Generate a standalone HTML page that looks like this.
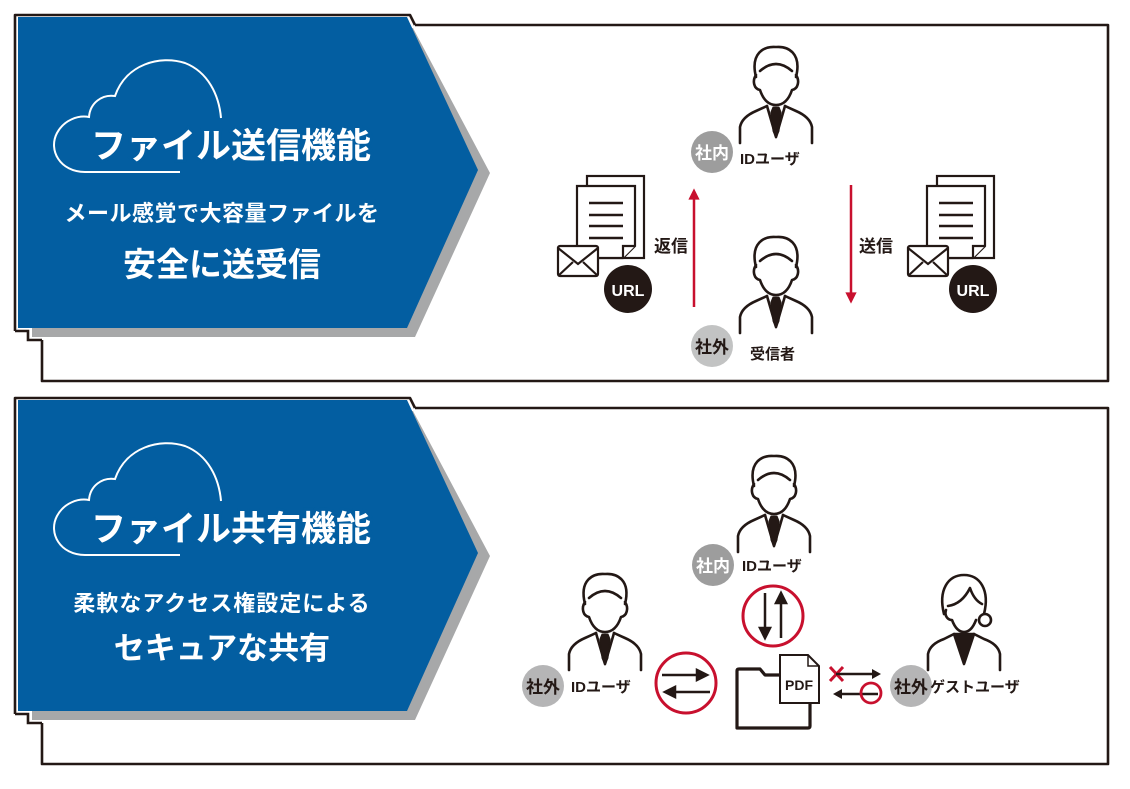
<!DOCTYPE html>
<html><head><meta charset="utf-8"><style>
html,body{margin:0;padding:0;background:#fff;}
svg{display:block;}
text{font-family:"Liberation Sans","Noto Sans CJK JP",sans-serif;}
</style></head><body>
<svg width="1130" height="789" viewBox="0 0 1130 789" xmlns="http://www.w3.org/2000/svg">
<defs>
<g id="man" fill="none" stroke="#231815" stroke-width="2.6" stroke-linejoin="round" stroke-linecap="round">
  <path d="M18,32 C12,8 26,1 38,2 C50,1 64,8 58,32" fill="#fff"/>
  <path d="M18,30 C14,36 16,44 22,45 C25,54 30,60 38,60 C46,60 51,54 54,45 C60,44 62,36 58,30"/>
  <path d="M22,26 Q38,12 54,26"/>
  <path d="M2,98 V82 Q4,72 18,66 L29,61"/>
  <path d="M74,98 V82 Q72,72 58,66 L47,61"/>
  <path d="M29,61 L38,92 L47,61"/>
  <path d="M35,62 H41 L43,67 L41,86 L38,93 L35,86 L33,67 Z" fill="#231815" stroke-width="1"/>
</g>
<g id="woman" fill="none" stroke="#231815" stroke-width="2.6" stroke-linejoin="round" stroke-linecap="round">
  <path d="M18,42 C12,18 22,3 38,3 C54,3 64,18 58,42"/>
  <path d="M20,38 C18,44 22,48 26,48 C29,56 33,60 38,60 C43,60 47,56 50,48"/>
  <path d="M22,34 Q36,32 44,16 Q48,28 56,32"/>
  <circle cx="59" cy="48" r="6" fill="#fff"/>
  <path d="M2,98 V82 Q4,72 18,67 L28,62"/>
  <path d="M74,98 V82 Q72,72 58,67 L48,62"/>
  <path d="M28,62 L38,92 L48,62 Z" fill="#231815"/>
</g>
<g id="docs" fill="#fff" stroke="#231815" stroke-width="2.2">
  <rect x="30" y="0" width="57" height="82"/>
  <path d="M20,10 H78 V70 L66,82 H20 Z"/>
  <path d="M66,82 V70 H78" />
  <path d="M32,27 H66 M32,39 H66 M32,50 H66 M32,62 H66" stroke-width="2.4"/>
  <rect x="1" y="70" width="40" height="30" rx="2"/>
  <path d="M1,72 L21,88 L41,72 M1,100 L16,86 M41,100 L26,86" fill="none"/>
</g>
<marker id="ra" viewBox="0 0 10 10" refX="5" refY="5" markerWidth="5" markerHeight="4.5" orient="auto"><path d="M0,0 L10,5 L0,10 Z" fill="#c8102e"/></marker>
</defs>

<!-- PANEL 1 -->
<path d="M415,25 H1108 V381 H42 V340" fill="#fff" stroke="#231815" stroke-width="2.6" stroke-linejoin="round"/>
<polygon points="32,28 413,28 490,173 415,337 32,337" fill="#a7a8a9"/>
<path d="M15,331 V15 H410 L415,25" fill="none" stroke="#231815" stroke-width="2.6" stroke-linejoin="round"/>
<path d="M15,331 H28 V340 H42" fill="none" stroke="#231815" stroke-width="2.6"/>
<polygon points="18,17 407,17 478,170 407,328 18,328" fill="#035ea1"/>
<path d="M180,172 H85 C60,172 48,150 57,133 C64,120 78,115 89,117 C90,103 102,94 115,96 C126,64 160,55 185,63 C208,72 219,95 221,118" fill="none" stroke="#fff" stroke-width="2"/>
<text x="231" y="158" fill="#fff" font-size="35" font-weight="bold" text-anchor="middle" stroke="#035ea1" stroke-width="6" paint-order="stroke">ファイル送信機能</text>
<text x="222" y="221" fill="#fff" font-size="22" font-weight="bold" text-anchor="middle" letter-spacing="0.5">メール感覚で大容量ファイルを</text>
<text x="222" y="276" fill="#fff" font-size="33" font-weight="bold" text-anchor="middle">安全に送受信</text>

<use href="#man" x="738" y="45"/>
<use href="#man" x="738" y="235"/>
<circle cx="712" cy="152" r="21" fill="#9d9d9d"/>
<text x="712" y="159" fill="#fff" font-size="17" font-weight="bold" text-anchor="middle">社内</text>
<text x="740" y="164" fill="#231815" font-size="15" font-weight="bold">IDユーザ</text>
<circle cx="712" cy="346" r="21" fill="#c2c3c3"/>
<text x="712" y="353" fill="#231815" font-size="17" font-weight="bold" text-anchor="middle">社外</text>
<text x="750" y="359" fill="#231815" font-size="15" font-weight="bold">受信者</text>
<line x1="694" y1="307" x2="694" y2="194" stroke="#c8102e" stroke-width="2.5" marker-end="url(#ra)"/>
<line x1="851" y1="185" x2="851" y2="298" stroke="#c8102e" stroke-width="2.5" marker-end="url(#ra)"/>
<text x="654" y="252" fill="#231815" font-size="17" font-weight="bold">返信</text>
<text x="859" y="252" fill="#231815" font-size="17" font-weight="bold">送信</text>
<use href="#docs" x="557" y="176"/>
<circle cx="628" cy="289" r="24" fill="#231815"/>
<text x="628" y="296" fill="#fff" font-size="16" font-weight="bold" text-anchor="middle">URL</text>
<use href="#docs" x="907" y="176"/>
<circle cx="973" cy="289" r="24" fill="#231815"/>
<text x="973" y="296" fill="#fff" font-size="16" font-weight="bold" text-anchor="middle">URL</text>

<!-- PANEL 2 -->
<path d="M415,408 H1108 V764 H42 V723" fill="#fff" stroke="#231815" stroke-width="2.6" stroke-linejoin="round"/>
<polygon points="32,411 413,411 490,556 415,720 32,720" fill="#a7a8a9"/>
<path d="M15,714 V398 H410 L415,408" fill="none" stroke="#231815" stroke-width="2.6" stroke-linejoin="round"/>
<path d="M15,714 H28 V723 H42" fill="none" stroke="#231815" stroke-width="2.6"/>
<polygon points="18,400 407,400 478,553 407,711 18,711" fill="#035ea1"/>
<path d="M180,555 H85 C60,555 48,533 57,516 C64,503 78,498 89,500 C90,486 102,477 115,479 C126,447 160,438 185,446 C208,455 219,478 221,501" fill="none" stroke="#fff" stroke-width="2"/>
<text x="231" y="541" fill="#fff" font-size="35" font-weight="bold" text-anchor="middle" stroke="#035ea1" stroke-width="6" paint-order="stroke">ファイル共有機能</text>
<text x="222" y="611" fill="#fff" font-size="22" font-weight="bold" text-anchor="middle" letter-spacing="1">柔軟なアクセス権設定による</text>
<text x="222" y="659" fill="#fff" font-size="31" font-weight="bold" text-anchor="middle">セキュアな共有</text>

<use href="#man" x="736" y="454"/>
<use href="#man" x="567" y="572"/>
<use href="#woman" x="926" y="572"/>
<circle cx="713" cy="565" r="21" fill="#9d9d9d"/>
<text x="713" y="572" fill="#fff" font-size="17" font-weight="bold" text-anchor="middle">社内</text>
<text x="742" y="571" fill="#231815" font-size="15" font-weight="bold">IDユーザ</text>
<circle cx="543" cy="686" r="21" fill="#b5b5b6"/>
<text x="543" y="693" fill="#231815" font-size="17" font-weight="bold" text-anchor="middle">社外</text>
<text x="571" y="692" fill="#231815" font-size="15" font-weight="bold">IDユーザ</text>
<circle cx="911" cy="686" r="21" fill="#b5b5b6"/>
<text x="911" y="693" fill="#231815" font-size="17" font-weight="bold" text-anchor="middle">社外</text>
<text x="930" y="692" fill="#231815" font-size="15" font-weight="bold">ゲストユーザ</text>

<circle cx="773" cy="616" r="30" fill="none" stroke="#c8102e" stroke-width="3"/>
<path d="M765,593 V633 M760,628 L765,638 L770,628 Z M781,638 V598 M776,603 L781,593 L786,603 Z" fill="#231815" stroke="#231815" stroke-width="2.5"/>
<circle cx="686" cy="683" r="30" fill="none" stroke="#c8102e" stroke-width="3"/>
<path d="M662,675 H702 M697,670 L707,675 L697,680 Z M710,692 H670 M675,687 L665,692 L675,697 Z" fill="#231815" stroke="#231815" stroke-width="2.5"/>

<path d="M737,728 V671 Q737,669 739,669 H760 L765,675 H810 V726 Q810,728 808,728 Z" fill="#fff" stroke="#231815" stroke-width="3.2" stroke-linejoin="round"/>
<path d="M780,655 H808 L819,666 V703 H780 Z" fill="#fff" stroke="#231815" stroke-width="2"/>
<path d="M808,655 V666 H819" fill="none" stroke="#231815" stroke-width="1.5"/>
<text x="799" y="690" fill="#231815" font-size="14" font-weight="bold" text-anchor="middle">PDF</text>
<path d="M830,667 L843,681 M843,667 L830,681" stroke="#c8102e" stroke-width="3"/>
<path d="M836,674 H874" stroke="#231815" stroke-width="2.5"/>
<path d="M872,669 L881,674 L872,679 Z" fill="#231815"/>
<path d="M878,694 H840" stroke="#231815" stroke-width="2.5"/>
<path d="M842,689 L833,694 L842,699 Z" fill="#231815"/>
<circle cx="871" cy="693" r="10" fill="none" stroke="#c8102e" stroke-width="2.8"/>
</svg>
</body></html>
